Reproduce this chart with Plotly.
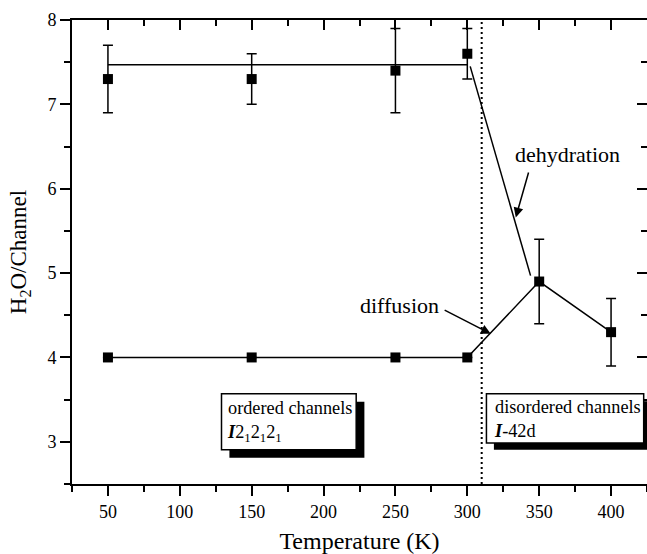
import plotly.graph_objects as go

# ---- data ----
T_high = [50, 150, 250, 300]
H_high = [7.3, 7.3, 7.4, 7.6]
E_high = [0.4, 0.3, 0.5, 0.3]

plateau_T = [50, 300]
plateau_H = [7.47, 7.47]

dehyd_T = [302, 344]
dehyd_H = [7.45, 4.97]

T_low = [50, 150, 250, 300, 350, 400]
H_low = [4.0, 4.0, 4.0, 4.0, 4.9, 4.3]
E_low = [None, None, None, None, 0.5, 0.4]

x_ticks = [50, 100, 150, 200, 250, 300, 350, 400]
y_ticks = [3, 4, 5, 6, 7, 8]
transition_T = 310

FONT = "Times New Roman, Liberation Serif, Times, serif"
BLACK = "black"

fig = go.Figure()

fig.add_trace(go.Scatter(x=plateau_T, y=plateau_H, mode="lines",
                         line=dict(color=BLACK, width=1.5), showlegend=False))
fig.add_trace(go.Scatter(x=dehyd_T, y=dehyd_H, mode="lines",
                         line=dict(color=BLACK, width=1.5), showlegend=False))
fig.add_trace(go.Scatter(x=T_high, y=H_high, mode="markers",
                         marker=dict(symbol="square", size=10, color=BLACK),
                         error_y=dict(type="data", array=E_high, visible=True,
                                      color=BLACK, thickness=1.5, width=5),
                         showlegend=False))
fig.add_trace(go.Scatter(x=T_low, y=H_low, mode="lines+markers",
                         line=dict(color=BLACK, width=1.5),
                         marker=dict(symbol="square", size=10, color=BLACK),
                         error_y=dict(type="data", array=E_low, visible=True,
                                      color=BLACK, thickness=1.5, width=5),
                         showlegend=False))
# dummy trace for mirrored axes
fig.add_trace(go.Scatter(x=[None], y=[None], xaxis="x2", yaxis="y2",
                         showlegend=False, hoverinfo="skip"))

xr = [25, 425]
yr = [2.5, 8]

fig.update_layout(
    width=647, height=554,
    margin=dict(l=72, r=0, t=20, b=70),
    paper_bgcolor="white", plot_bgcolor="white",
    font=dict(family=FONT, color=BLACK),
    xaxis=dict(range=xr, tickvals=x_ticks, ticks="outside", ticklen=10, tickwidth=2,
               tickcolor=BLACK, showline=True, linewidth=2, linecolor=BLACK,
               showgrid=False, zeroline=False,
               tickfont=dict(size=18, family=FONT),
               minor=dict(dtick=25, tick0=0, ticks="outside", ticklen=6, tickwidth=2,
                          tickcolor=BLACK, showgrid=False),
               title=dict(text="Temperature (K)", font=dict(size=24, family=FONT), standoff=12)),
    yaxis=dict(range=yr, tickvals=y_ticks, ticks="outside", ticklen=10, tickwidth=2,
               tickcolor=BLACK, showline=True, linewidth=2, linecolor=BLACK,
               showgrid=False, zeroline=False,
               tickfont=dict(size=18, family=FONT),
               minor=dict(dtick=0.5, tick0=0, ticks="outside", ticklen=6, tickwidth=2,
                          tickcolor=BLACK, showgrid=False),
               title=dict(text="H<sub>2</sub>O/Channel", font=dict(size=23, family=FONT), standoff=14)),
    xaxis2=dict(range=xr, overlaying="x", side="top", tickvals=x_ticks, ticks="inside",
                ticklen=10, tickwidth=2, tickcolor=BLACK, showline=True, linewidth=2,
                linecolor=BLACK, showticklabels=False, showgrid=False, zeroline=False,
                minor=dict(dtick=25, tick0=0, ticks="inside", ticklen=6, tickwidth=2,
                           tickcolor=BLACK, showgrid=False)),
    yaxis2=dict(range=yr, overlaying="y", side="right", tickvals=y_ticks, ticks="inside",
                ticklen=10, tickwidth=2, tickcolor=BLACK, showline=False,
                showticklabels=False, showgrid=False, zeroline=False,
                minor=dict(dtick=0.5, tick0=0, ticks="inside", ticklen=6, tickwidth=2,
                           tickcolor=BLACK, showgrid=False)),
)

# transition line
fig.add_shape(type="line", xref="x", yref="paper", x0=transition_T, x1=transition_T,
              y0=0, y1=1, line=dict(color=BLACK, width=2, dash="2px,3px"))

# boxes with shadows
fig.add_shape(type="rect", xref="x", yref="y", x0=134.5, x1=228.4, y0=2.81, y1=3.475,
              fillcolor=BLACK, line=dict(width=0))
fig.add_shape(type="rect", xref="x", yref="y", x0=129.0, x1=222.7, y0=2.905, y1=3.57,
              fillcolor="white", line=dict(color=BLACK, width=1.5))
fig.add_shape(type="rect", xref="x", yref="y", x0=318.5, x1=430, y0=2.905, y1=3.48,
              fillcolor=BLACK, line=dict(width=0))
fig.add_shape(type="rect", xref="x", yref="y", x0=313.3, x1=422.7, y0=2.985, y1=3.57,
              fillcolor="white", line=dict(color=BLACK, width=1.5))

fig.add_annotation(x=131.5, y=3.245, xref="x", yref="y", xanchor="left", yanchor="middle",
                   align="left", showarrow=False, font=dict(size=18.3, family=FONT),
                   text="ordered channels<br><b><i>I</i></b>2<sub>1</sub>2<sub>1</sub>2<sub>1</sub>")
fig.add_annotation(x=317.5, y=3.27, xref="x", yref="y", xanchor="left", yanchor="middle",
                   align="left", showarrow=False, font=dict(size=18.3, family=FONT),
                   text="disordered channels<br><b><i>I</i></b>-42d")

# arrows and labels
fig.add_annotation(x=253, y=4.62, xref="x", yref="y", text="diffusion", showarrow=False,
                   font=dict(size=22, family=FONT))
fig.add_annotation(x=316.3, y=4.28, ax=283.2, ay=4.57, xref="x", yref="y", axref="x", ayref="y",
                   text="", showarrow=True, arrowhead=2, arrowsize=1.3, arrowwidth=1.5,
                   arrowcolor=BLACK)
fig.add_annotation(x=370, y=6.40, xref="x", yref="y", text="dehydration", showarrow=False,
                   font=dict(size=22, family=FONT))
fig.add_annotation(x=333.7, y=5.66, ax=342.9, ay=6.21, xref="x", yref="y", axref="x", ayref="y",
                   text="", showarrow=True, arrowhead=2, arrowsize=1.3, arrowwidth=1.5,
                   arrowcolor=BLACK)

fig.write_html("out.html")
